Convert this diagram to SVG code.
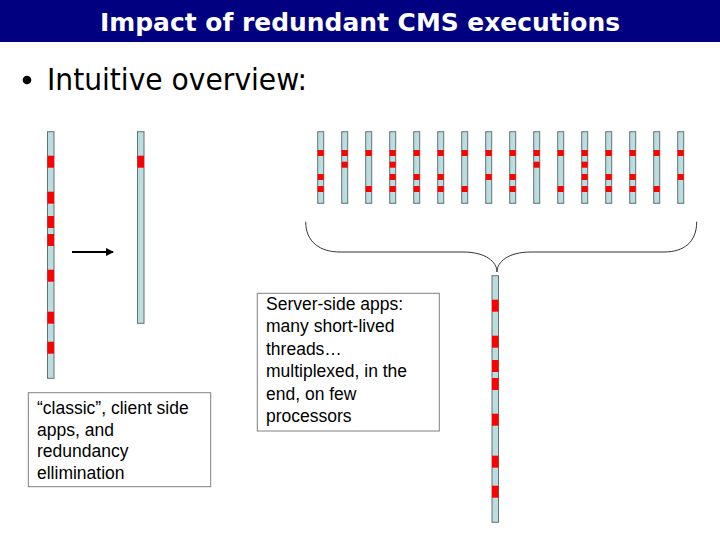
<svg xmlns="http://www.w3.org/2000/svg" width="720" height="540" viewBox="0 0 720 540">
<defs>
<style>
.bar{fill:#BCDCDF;stroke:#5E7373;stroke-width:1}
.r{fill:#FF0000}
.box{fill:#FFFFFF;stroke:#808080;stroke-width:1}
.t{font-family:"Liberation Sans",Arial,sans-serif;font-size:17.5px;fill:#000}
</style>
<marker id="ah" markerWidth="8" markerHeight="8" refX="7" refY="4" orient="auto" markerUnits="userSpaceOnUse">
<path d="M0,0 L8,4 L0,8 Z" fill="#000"/>
</marker>
</defs>
<rect width="720" height="540" fill="#FFFFFF"/>
<g id="title">
<rect x="0" y="0" width="720" height="42" fill="#000080"/>
<text x="360" y="31" text-anchor="middle" font-family="'DejaVu Sans Condensed','DejaVu Sans',sans-serif" font-weight="bold" font-size="25" fill="#FFFFFF" textLength="520" lengthAdjust="spacingAndGlyphs">Impact of redundant CMS executions</text>
</g>
<g id="bullet">
<circle cx="27" cy="80" r="4.3" fill="#000"/>
<text x="47" y="89.5" font-family="'DejaVu Sans Condensed','DejaVu Sans',sans-serif" font-size="31" fill="#000" textLength="260" lengthAdjust="spacingAndGlyphs">Intuitive overview:</text>
</g>
<g id="classic-thread">
<rect class="bar" x="47.5" y="131.7" width="6.5" height="246.6"/>
<rect class="r" x="47.5" y="155.7" width="6.5" height="12"/>
<rect class="r" x="47.5" y="191.7" width="6.5" height="12"/>
<rect class="r" x="47.5" y="216" width="6.5" height="12"/>
<rect class="r" x="47.5" y="234" width="6.5" height="12"/>
<rect class="r" x="47.5" y="269.7" width="6.5" height="12"/>
<rect class="r" x="47.5" y="311.7" width="6.5" height="12"/>
<rect class="r" x="47.5" y="341.7" width="6.5" height="12"/>
</g>
<g id="reduced-thread">
<rect class="bar" x="137.5" y="131.7" width="6.5" height="191.6"/>
<rect class="r" x="137.5" y="155.7" width="6.5" height="12"/>
</g>
<g id="server-threads">
<rect class="bar" x="317.7" y="131.7" width="6" height="71.6"/><rect class="r" x="317.7" y="150" width="6" height="6"/><rect class="r" x="317.7" y="174" width="6" height="6"/><rect class="r" x="317.7" y="186" width="6" height="6"/>
<rect class="bar" x="341.7" y="131.7" width="6" height="71.6"/><rect class="r" x="341.7" y="150" width="6" height="6"/><rect class="r" x="341.7" y="161.7" width="6" height="6"/>
<rect class="bar" x="365.7" y="131.7" width="6" height="71.6"/><rect class="r" x="365.7" y="150" width="6" height="6"/><rect class="r" x="365.7" y="186" width="6" height="6"/>
<rect class="bar" x="389.7" y="131.7" width="6" height="71.6"/><rect class="r" x="389.7" y="150" width="6" height="6"/><rect class="r" x="389.7" y="161.7" width="6" height="6"/><rect class="r" x="389.7" y="174" width="6" height="6"/><rect class="r" x="389.7" y="186" width="6" height="6"/>
<rect class="bar" x="413.7" y="131.7" width="6" height="71.6"/><rect class="r" x="413.7" y="150" width="6" height="6"/><rect class="r" x="413.7" y="174" width="6" height="6"/><rect class="r" x="413.7" y="186" width="6" height="6"/>
<rect class="bar" x="437.7" y="131.7" width="6" height="71.6"/><rect class="r" x="437.7" y="150" width="6" height="6"/><rect class="r" x="437.7" y="174" width="6" height="6"/><rect class="r" x="437.7" y="186" width="6" height="6"/>
<rect class="bar" x="461.7" y="131.7" width="6" height="71.6"/><rect class="r" x="461.7" y="150" width="6" height="6"/><rect class="r" x="461.7" y="186" width="6" height="6"/>
<rect class="bar" x="485.7" y="131.7" width="6" height="71.6"/><rect class="r" x="485.7" y="150" width="6" height="6"/><rect class="r" x="485.7" y="174" width="6" height="6"/>
<rect class="bar" x="509.7" y="131.7" width="6" height="71.6"/><rect class="r" x="509.7" y="150" width="6" height="6"/><rect class="r" x="509.7" y="174" width="6" height="6"/><rect class="r" x="509.7" y="186" width="6" height="6"/>
<rect class="bar" x="533.7" y="131.7" width="6" height="71.6"/><rect class="r" x="533.7" y="150" width="6" height="6"/><rect class="r" x="533.7" y="161.7" width="6" height="6"/>
<rect class="bar" x="557.7" y="131.7" width="6" height="71.6"/><rect class="r" x="557.7" y="150" width="6" height="6"/><rect class="r" x="557.7" y="186" width="6" height="6"/>
<rect class="bar" x="581.7" y="131.7" width="6" height="71.6"/><rect class="r" x="581.7" y="150" width="6" height="6"/><rect class="r" x="581.7" y="161.7" width="6" height="6"/><rect class="r" x="581.7" y="174" width="6" height="6"/><rect class="r" x="581.7" y="186" width="6" height="6"/>
<rect class="bar" x="605.7" y="131.7" width="6" height="71.6"/><rect class="r" x="605.7" y="150" width="6" height="6"/><rect class="r" x="605.7" y="174" width="6" height="6"/><rect class="r" x="605.7" y="186" width="6" height="6"/>
<rect class="bar" x="629.7" y="131.7" width="6" height="71.6"/><rect class="r" x="629.7" y="150" width="6" height="6"/><rect class="r" x="629.7" y="174" width="6" height="6"/><rect class="r" x="629.7" y="186" width="6" height="6"/>
<rect class="bar" x="653.7" y="131.7" width="6" height="71.6"/><rect class="r" x="653.7" y="150" width="6" height="6"/><rect class="r" x="653.7" y="186" width="6" height="6"/>
<rect class="bar" x="677.7" y="131.7" width="6" height="71.6"/><rect class="r" x="677.7" y="150" width="6" height="6"/><rect class="r" x="677.7" y="174" width="6" height="6"/>
</g>
<g id="multiplexed-thread">
<rect class="bar" x="492" y="275.7" width="6.5" height="246.6"/>
<rect class="r" x="492" y="299.7" width="6.5" height="12"/>
<rect class="r" x="492" y="335.7" width="6.5" height="12"/>
<rect class="r" x="492" y="360" width="6.5" height="12"/>
<rect class="r" x="492" y="378" width="6.5" height="12"/>
<rect class="r" x="492" y="413.7" width="6.5" height="12"/>
<rect class="r" x="492" y="455.7" width="6.5" height="12"/>
<rect class="r" x="492" y="485.7" width="6.5" height="12"/>
</g>
<g id="connectors">
<line x1="72" y1="252" x2="113" y2="252" stroke="#000" stroke-width="2" marker-end="url(#ah)"/>
<path d="M305.7,221.7 C305.7,242 320,252 340,252 L463,252 C486,252 497,262 497,272 C497,262 508,252 531,252 L664,252 C684,252 696.7,242 696.7,221.7" fill="none" stroke="#333333" stroke-width="1"/>
</g>
<g id="server-note">
<rect class="box" x="257.3" y="293.3" width="182" height="137.7"/>
<text class="t" x="266"><tspan x="266" y="309.5">Server-side apps:</tspan><tspan x="266" y="332">many short-lived</tspan><tspan x="266" y="354.5">threads…</tspan><tspan x="266" y="377">multiplexed, in the</tspan><tspan x="266" y="399.5">end, on few</tspan><tspan x="266" y="422">processors</tspan></text>
</g>
<g id="classic-note">
<rect class="box" x="28.3" y="392.7" width="182.4" height="94"/>
<text class="t" x="37"><tspan x="37" y="414">“classic”, client side</tspan><tspan x="37" y="435.5">apps, and</tspan><tspan x="37" y="457">redundancy</tspan><tspan x="37" y="478.5">ellimination</tspan></text>
</g>
</svg>
